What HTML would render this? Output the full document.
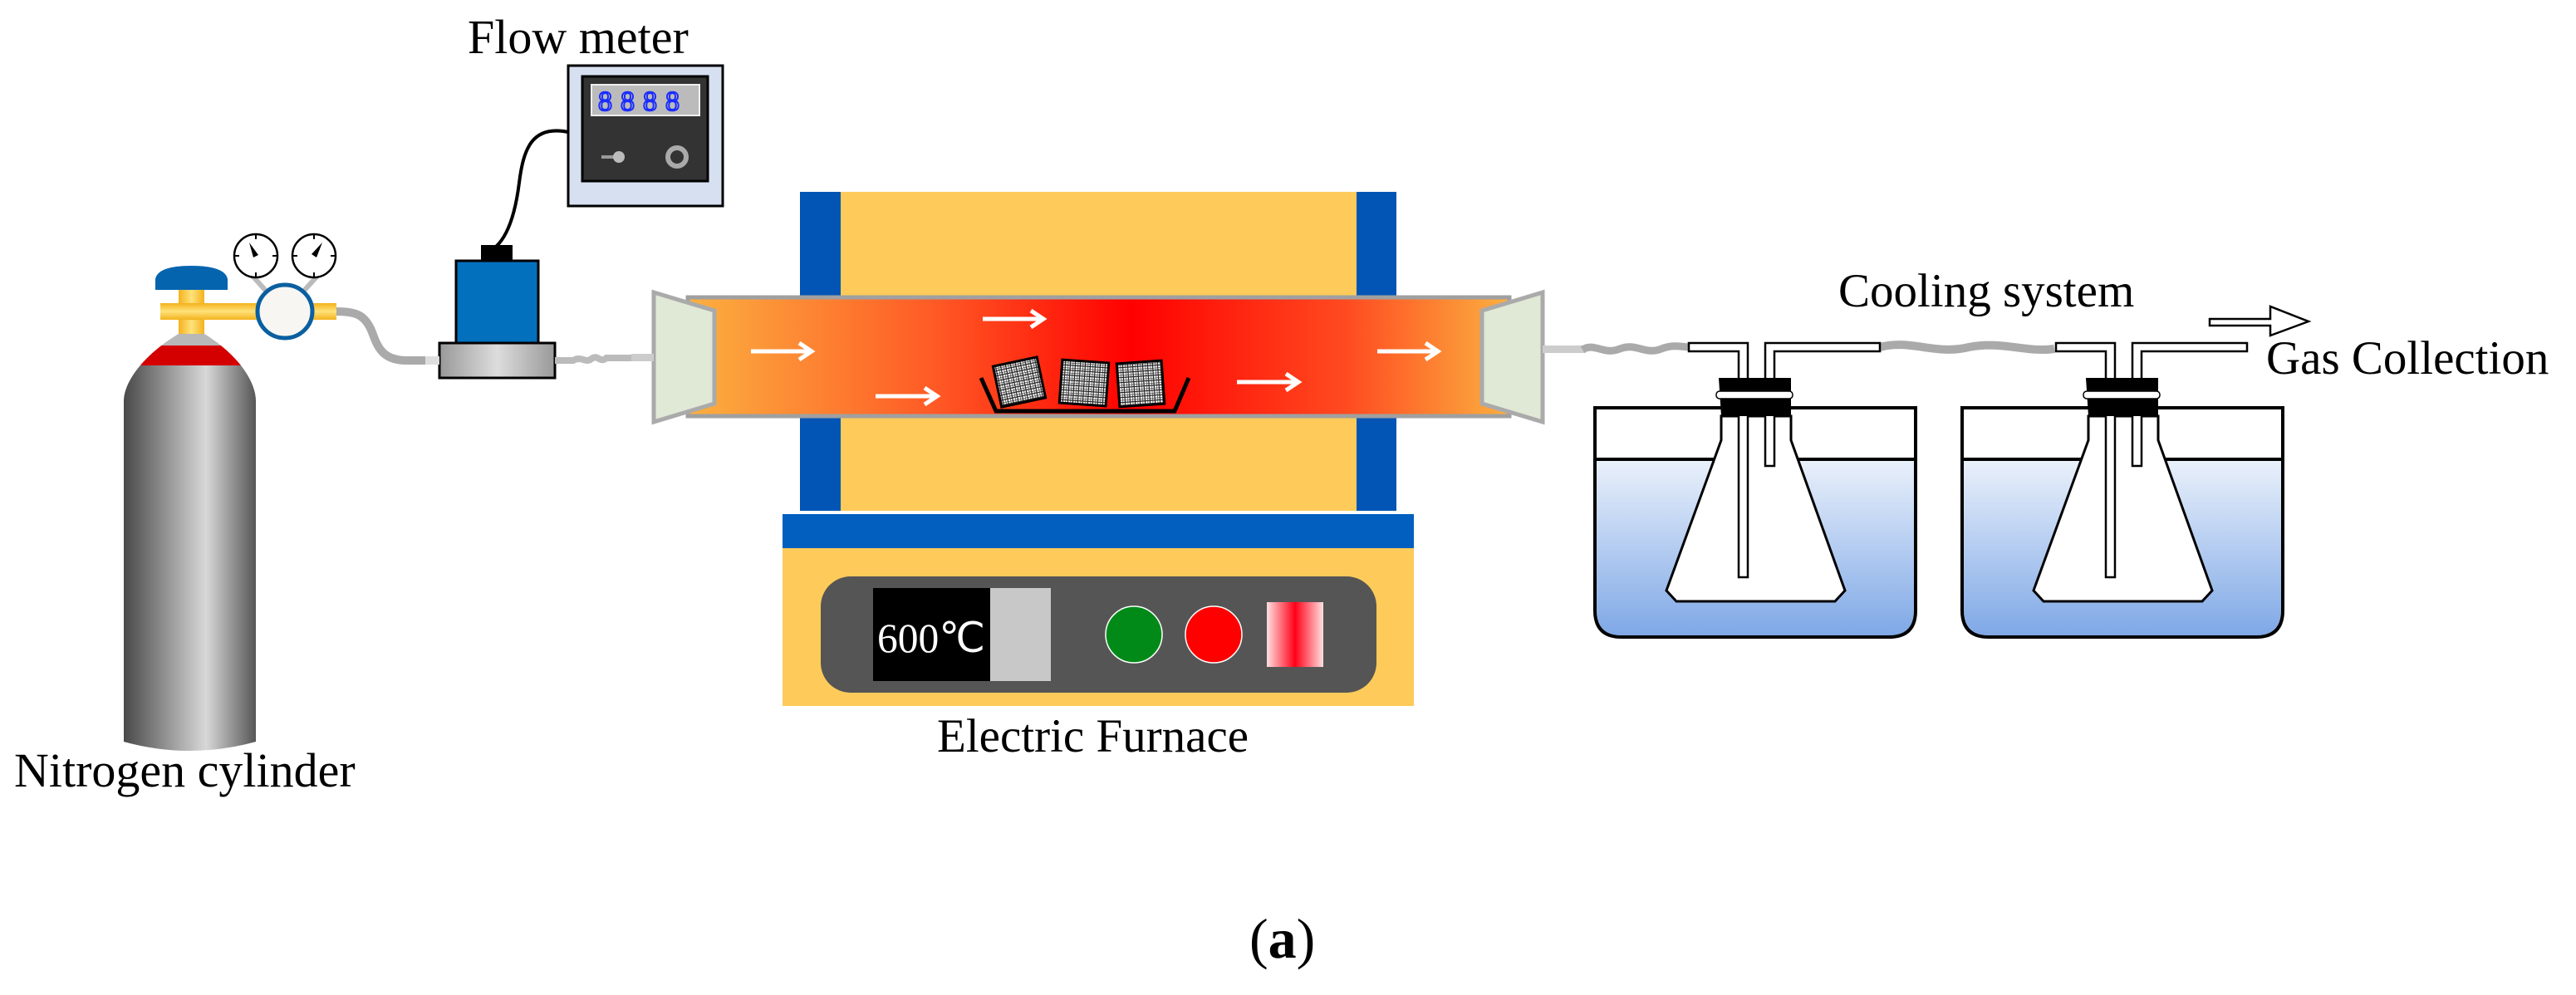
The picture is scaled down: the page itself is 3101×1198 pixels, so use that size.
<!DOCTYPE html>
<html><head><meta charset="utf-8"><style>
html,body{margin:0;padding:0;background:#fff;}
svg{display:block;}
text{font-family:"Liberation Serif",serif;fill:#000;}
</style></head><body>
<svg width="3101" height="1198" viewBox="0 0 3101 1198" xmlns="http://www.w3.org/2000/svg">
<defs>
<linearGradient id="cyl" x1="0" x2="1" y1="0" y2="0">
<stop offset="0" stop-color="#3c3c3c"/><stop offset="0.6" stop-color="#d8d8d8"/><stop offset="1" stop-color="#3c3c3c"/></linearGradient>
<linearGradient id="yel" x1="0" x2="1"><stop offset="0" stop-color="#f3b21d"/><stop offset="0.5" stop-color="#ffe27a"/><stop offset="1" stop-color="#f3b21d"/></linearGradient>
<linearGradient id="yelv" x1="0" x2="0" y1="0" y2="1"><stop offset="0" stop-color="#f3b21d"/><stop offset="0.5" stop-color="#ffe27a"/><stop offset="1" stop-color="#f3b21d"/></linearGradient>
<linearGradient id="base" x1="0" x2="1"><stop offset="0" stop-color="#999"/><stop offset="0.5" stop-color="#ddd"/><stop offset="1" stop-color="#999"/></linearGradient>
<linearGradient id="tube" x1="0" x2="1"><stop offset="0" stop-color="#fbb040"/><stop offset="0.3" stop-color="#ff5a25"/><stop offset="0.54" stop-color="#ff0000"/><stop offset="0.8" stop-color="#ff4a20"/><stop offset="1" stop-color="#fbb040"/></linearGradient>
<linearGradient id="water" x1="0" x2="0" y1="0" y2="1"><stop offset="0" stop-color="#eaf1fb"/><stop offset="1" stop-color="#7fa8e6"/></linearGradient>
<linearGradient id="rb" x1="0" x2="1"><stop offset="0" stop-color="#ffe0e0"/><stop offset="0.5" stop-color="#ff0018"/><stop offset="1" stop-color="#ffe0e0"/></linearGradient>
<pattern id="mesh" width="6" height="6" patternUnits="userSpaceOnUse"><rect width="6" height="6" fill="#fff"/><path d="M0 0H6M0 3H6M0 0V6M3 0V6" stroke="#222" stroke-width="1.2"/></pattern>
<clipPath id="cylclip"><path d="M149,893 L149,483 C149,460 172,428 215,402 L246,402 C288,428 308,460 308,483 L308,893 Q228,915 149,893 Z"/></clipPath>
</defs>

<!-- Flow meter -->
<text x="563" y="64" font-size="58">Flow meter</text>
<rect x="684" y="79" width="186" height="169" fill="#d6e0f0" stroke="#000" stroke-width="3"/>
<rect x="701" y="92" width="151" height="126" fill="#333" stroke="#000" stroke-width="3"/>
<rect x="712" y="102" width="130" height="37" fill="#bbb" stroke="#eee" stroke-width="2"/>
<text x="720" y="133" font-family="Liberation Mono,monospace" font-size="34" letter-spacing="10" style="fill:none;stroke:#1a2cff;stroke-width:2">8888</text>
<line x1="724" y1="189" x2="745" y2="189" stroke="#999" stroke-width="4"/>
<circle cx="745" cy="189" r="7" fill="#bbb"/>
<circle cx="815" cy="189" r="11" fill="none" stroke="#aaa" stroke-width="6"/>
<path d="M684,159 C640,150 630,180 625,220 C620,260 610,285 597,297" fill="none" stroke="#000" stroke-width="4"/>

<!-- flow sensor -->
<rect x="579" y="295" width="38" height="20" fill="#000"/>
<rect x="549" y="314" width="99" height="99" fill="#0270bd" stroke="#000" stroke-width="3"/>
<rect x="529" y="413" width="139" height="42" fill="url(#base)" stroke="#000" stroke-width="3"/>

<!-- hoses -->
<path d="M405,375 C430,375 440,380 448,400 C455,420 462,434 490,434 L529,434" fill="none" stroke="#aaa" stroke-width="10"/>
<rect x="512" y="429" width="17" height="10" fill="#ddd"/>
<path d="M668,434 L690,434 C700,428 705,438 712,432 C720,426 722,438 730,431 L786,431" fill="none" stroke="#bbb" stroke-width="8"/>

<!-- cylinder -->
<rect x="215" y="349" width="31" height="56" fill="url(#yel)"/>
<rect x="193" y="365" width="212" height="20" fill="url(#yelv)"/>
<path d="M187,349 L187,336 Q190,320 230,320 Q271,320 274,336 L274,349 Z" fill="#0464ae"/>
<line x1="302" y1="330" x2="320" y2="350" stroke="#bbb" stroke-width="6"/>
<line x1="384" y1="330" x2="366" y2="350" stroke="#bbb" stroke-width="6"/>
<ellipse cx="343" cy="375" rx="33" ry="32" fill="#f7f6f2" stroke="#0a5fa0" stroke-width="5"/>
<g stroke="#000" stroke-width="2.5" fill="#fff">
<circle cx="308" cy="308" r="26"/><circle cx="378" cy="308" r="26"/></g>
<g stroke="#000" stroke-width="2">
<path d="M308,282v6M308,334v-6M282,308h6M334,308h-6M378,282v6M378,334v-6M352,308h6M404,308h-6"/></g>
<path d="M300,292 L311,307 L305,310 Z" fill="#000"/>
<path d="M388,292 L381,310 L375,306 Z" fill="#000"/>
<g clip-path="url(#cylclip)">
<rect x="140" y="395" width="180" height="520" fill="url(#cyl)"/>
<rect x="140" y="416" width="180" height="24" fill="#d40000"/>
<rect x="140" y="395" width="180" height="21" fill="#b8b8b8"/>
</g>
<text x="17" y="947" font-size="58">Nitrogen cylinder</text>

<!-- furnace -->
<rect x="963" y="231" width="49" height="384" fill="#0255b5"/>
<rect x="1633" y="231" width="48" height="384" fill="#0255b5"/>
<rect x="1012" y="231" width="621" height="384" fill="#fecb5a"/>
<rect x="942" y="619" width="760" height="41" fill="#035fbf"/>
<rect x="942" y="660" width="760" height="190" fill="#fecb5a"/>
<rect x="988" y="694" width="669" height="140" rx="36" fill="#555"/>
<rect x="1051" y="708" width="141" height="112" fill="#000"/>
<rect x="1192" y="708" width="73" height="112" fill="#c8c8c8"/>
<text x="1056" y="785" font-size="50" textLength="130" lengthAdjust="spacingAndGlyphs" style="fill:#fff">600℃</text>
<ellipse cx="1365" cy="764" rx="34" ry="34" fill="#028a18" stroke="#fff" stroke-width="1.5"/>
<ellipse cx="1461" cy="764" rx="34" ry="34" fill="#ff0000" stroke="#fff" stroke-width="1.5"/>
<rect x="1525" y="725" width="68" height="78" fill="url(#rb)"/>
<text x="1128" y="905" font-size="57">Electric Furnace</text>

<!-- tube -->
<rect x="828" y="358" width="989" height="143" fill="url(#tube)" stroke="#a0a0a0" stroke-width="5"/>
<polygon points="787,352 860,374 860,486 787,508" fill="#e0e8d6" stroke="#aaa" stroke-width="5"/>
<polygon points="1857,352 1784,374 1784,486 1857,508" fill="#e0e8d6" stroke="#aaa" stroke-width="5"/>
<rect x="760" y="426" width="27" height="9" fill="#ccc"/>
<g stroke="#fff" stroke-width="5" fill="none">
<path d="M904,423H975M962,413L977,423L962,433"/>
<path d="M1183,384H1254M1241,374L1256,384L1241,394"/>
<path d="M1054,477H1126M1113,467L1128,477L1113,487"/>
<path d="M1489,460H1561M1548,450L1563,460L1548,470"/>
<path d="M1658,423H1729M1716,413L1731,423L1716,433"/>
</g>
<path d="M1181,455 L1199,495 L1414,495 L1431,455" fill="none" stroke="#000" stroke-width="5"/>
<g stroke="#000" stroke-width="3">
<rect x="1200" y="435" width="54" height="50" fill="url(#mesh)" transform="rotate(-12 1227 460)"/>
<rect x="1277" y="435" width="56" height="52" fill="url(#mesh)" transform="rotate(4 1305 461)"/>
<rect x="1346" y="436" width="54" height="52" fill="url(#mesh)" transform="rotate(-4 1373 462)"/>
</g>

<!-- cooling -->
<text x="2213" y="369" font-size="57">Cooling system</text>
<text x="2728" y="450" font-size="57">Gas Collection</text>
<path d="M2660,384 H2733 V369 L2779,387 L2733,404 V392 H2660 Z" fill="#fff" stroke="#000" stroke-width="2.5"/>
<rect x="1857" y="416" width="52" height="9" fill="#ccc"/>
<path d="M1905,421 C1920,412 1930,428 1950,420 C1970,412 1980,428 2000,420 C2015,414 2025,418 2035,418" fill="none" stroke="#aaa" stroke-width="9"/>
<path d="M2263,418 C2300,408 2330,428 2370,418 C2410,410 2440,425 2473,420" fill="none" stroke="#aaa" stroke-width="10"/>

<g id="unit">
<path d="M1922,553 H2304 V735 Q2304,765 2274,765 H1952 Q1922,765 1922,735 Z" fill="url(#water)"/>
<line x1="1920" y1="553" x2="2306" y2="553" stroke="#000" stroke-width="4"/>
<path d="M1920,491 H2306 V735 Q2306,767 2274,767 H1952 Q1920,767 1920,735 Z" fill="none" stroke="#000" stroke-width="4"/>
<path d="M2072,501 L2072,530 L2006,711 L2018,724 L2209,724 L2221,711 L2156,530 L2156,501 Z" fill="#fff" stroke="#000" stroke-width="3"/>
<path d="M2033,413 H2104 V695 H2093 V423 H2033 Z" fill="#fff" stroke="#000" stroke-width="2.5"/>
<path d="M2263,413 H2125 V561 H2136 V423 H2263 Z" fill="#fff" stroke="#000" stroke-width="2.5"/>
<path d="M2069,455 H2156 V501 H2072 Z" fill="#000"/>
<rect x="2066" y="471" width="92" height="9" rx="4" fill="#fff" stroke="#000" stroke-width="1.5"/>
</g>
<use href="#unit" transform="translate(442,0)"/>

<!-- (a) -->
<text x="1504" y="1153" font-size="68">(<tspan font-weight="bold">a</tspan>)</text>
</svg>
</body></html>
